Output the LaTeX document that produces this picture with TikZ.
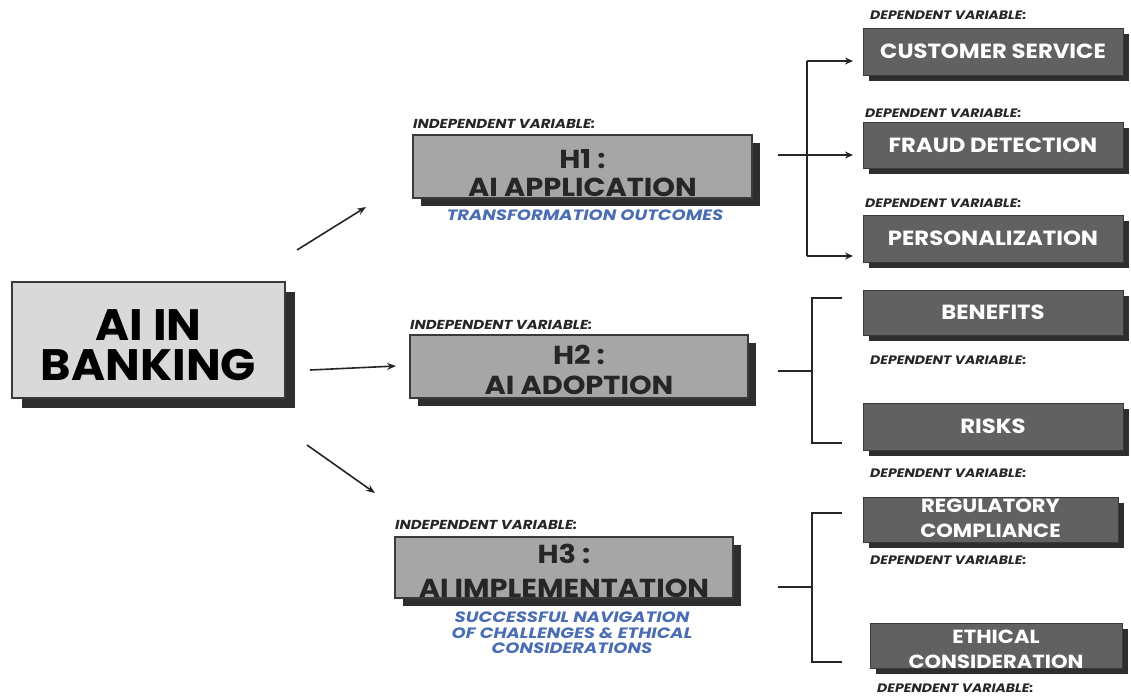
\documentclass[tikz,border=0pt]{standalone}
\usepackage{fontspec}
\setmainfont{Poppins}
\newfontfamily\wideA{Poppins}[FakeStretch=1.05]
\newfontfamily\wideB{Poppins}[FakeStretch=1.11]
\newfontfamily\wideC{Poppins}[FakeStretch=1.15]
\newfontfamily\wideD{Poppins}[FakeStretch=1.2]
\usetikzlibrary{arrows.meta,shadows}
\definecolor{lightbox}{HTML}{D9D9D9}
\definecolor{midbox}{HTML}{A6A6A6}
\definecolor{darkbox}{HTML}{616161}
\definecolor{shadowc}{HTML}{2E2E2E}
\definecolor{edgec}{HTML}{3A3A3A}
\definecolor{bluetxt}{HTML}{4A6DB4}
\begin{document}
\begin{tikzpicture}[x=1pt,y=-1pt,
  mainbox/.style={draw=edgec,line width=1.2pt,fill=lightbox,
    minimum width=273pt,minimum height=116pt,inner sep=0pt,
    drop shadow={shadow xshift=10pt,shadow yshift=-10pt,fill=shadowc,opacity=1}},
  maintxt/.style={text=black,align=center,inner sep=0pt,
    font=\wideA\bfseries\fontsize{44}{40}\selectfont},
  hbox/.style={draw=edgec,line width=1.2pt,fill=midbox,
    minimum width=338pt,minimum height=63pt,inner sep=0pt,
    drop shadow={shadow xshift=8pt,shadow yshift=-8pt,fill=shadowc,opacity=1}},
  htxt/.style={text=black!85,align=center,inner sep=0pt,
    font=\wideB\bfseries\fontsize{26}{28}\selectfont},
  dbox/.style={draw=edgec,line width=1pt,fill=darkbox,text=white,
    minimum width=260pt,minimum height=47pt,inner sep=0pt,align=center,
    font=\wideB\bfseries\fontsize{20.5}{24}\selectfont,
    drop shadow={shadow xshift=6pt,shadow yshift=-6pt,fill=shadowc,opacity=1}},
  dtxt2/.style={text=white,align=center,inner sep=0pt,
    font=\wideB\bfseries\fontsize{19}{25}\selectfont},
  varlbl/.style={anchor=base west,inner sep=0pt,text=black!85,
    font=\wideC\bfseries\itshape\fontsize{13}{15}\selectfont},
  deplbl/.style={varlbl,font=\wideC\bfseries\itshape\fontsize{12.2}{15}\selectfont},
  bluelbl/.style={text=bluetxt,align=center,inner sep=0pt,
    font=\wideD\bfseries\itshape\fontsize{15}{15.5}\selectfont},
  arr/.style={line width=1.6pt,draw=black!85,-{Stealth[length=9pt,width=7pt]}},
  brk/.style={line width=2.2pt,draw=black!85},
  cn/.style={line width=1.5pt,draw=black!85,-{Stealth[length=8pt,width=7pt]}}
]
\useasboundingbox (0,0) rectangle (1131,697);

% main box
\node[mainbox,label={[name=bankt,maintxt,yshift=-5pt]center:{AI IN\\BANKING}}] (bank) at (148.5,340) {};

% hypothesis boxes
\node[hbox,minimum width=339pt,label={[name=h1t,htxt,yshift=-7pt]center:{H1 :\\AI APPLICATION}}] (h1) at (582.5,166.5) {};
\node[hbox,label={[name=h2t,htxt,yshift=-3.5pt,font=\wideB\bfseries\fontsize{26}{30}\selectfont]center:{H2 :\\AI ADOPTION}}] (h2) at (579,366.5) {};
\node[hbox,minimum height=61pt,label={[name=h3t,htxt,yshift=-3.5pt,font=\wideB\bfseries\fontsize{26}{34}\selectfont]center:{H3 :\\AI IMPLEMENTATION}}] (h3) at (564,567.5) {};

\node[varlbl] (iv1) at (413,128) {INDEPENDENT VARIABLE:};
\node[varlbl] (iv2) at (410,329) {INDEPENDENT VARIABLE:};
\node[varlbl] (iv3) at (395,529) {INDEPENDENT VARIABLE:};

\node[bluelbl] (b1) at (585,215) {TRANSFORMATION OUTCOMES};
\node[bluelbl] (b3) at (572,633) {SUCCESSFUL NAVIGATION\\OF CHALLENGES \& ETHICAL\\CONSIDERATIONS};

% dependent boxes
\node[dbox] (cs) at (993,51.5) {CUSTOMER SERVICE};
\node[dbox,minimum height=46pt] (fd) at (993,145) {FRAUD DETECTION};
\node[dbox] (pe) at (993,238.5) {PERSONALIZATION};
\node[dbox,minimum height=45pt] (be) at (993,312.5) {BENEFITS};
\node[dbox] (ri) at (993,426.5) {RISKS};
\node[dbox,minimum width=255pt,minimum height=45pt,label={[name=rct,dtxt2,yshift=1pt]center:{REGULATORY\\COMPLIANCE}}] (rc) at (990.5,519.5) {};
\node[dbox,minimum width=252pt,minimum height=45pt,label={[name=ect,dtxt2,yshift=-4pt]center:{ETHICAL\\CONSIDERATION}}] (ec) at (996,645.5) {};

\node[deplbl] (dv1) at (870,19) {DEPENDENT VARIABLE:};
\node[deplbl] (dv2) at (865,117) {DEPENDENT VARIABLE:};
\node[deplbl] (dv3) at (865,207) {DEPENDENT VARIABLE:};
\node[deplbl] (dv4) at (870,364) {DEPENDENT VARIABLE:};
\node[deplbl] (dv5) at (870,477) {DEPENDENT VARIABLE:};
\node[deplbl] (dv6) at (870,564) {DEPENDENT VARIABLE:};
\node[deplbl] (dv7) at (877,692) {DEPENDENT VARIABLE:};

% arrows from main box
\coordinate (a1s) at (297,250); \coordinate (a1e) at (366,207);
\coordinate (a2s) at (310,370); \coordinate (a2e) at (396,366);
\coordinate (a3s) at (307,445); \coordinate (a3e) at (375,493);
\draw[arr] (a1s) -- (a1e);
\draw[arr] (a2s) -- (a2e);
\draw[arr] (a3s) -- (a3e);

% H1 connectors
\coordinate (t1) at (807,61); \coordinate (t3) at (807,256);
\coordinate (s1) at (778,155); \coordinate (m1) at (807,155);
\coordinate (e1) at (853,61); \coordinate (e2) at (853,155); \coordinate (e3) at (853,256);
\draw[line width=1.5pt,draw=black!85] (t1) -- (t3);
\draw[cn] (t1) -- (e1);
\draw[cn] (s1) -- (e2);
\draw[cn] (t3) -- (e3);

% H2 bracket
\coordinate (p1) at (842,298); \coordinate (p2) at (812,298);
\coordinate (p3) at (812,443); \coordinate (p4) at (842,443);
\coordinate (q1) at (778,371); \coordinate (q2) at (812,371);
\draw[brk] (p1) -- (p2) -- (p3) -- (p4);
\draw[brk] (q1) -- (q2);

% H3 bracket
\coordinate (r1) at (842,513); \coordinate (r2) at (812,513);
\coordinate (r3) at (812,662); \coordinate (r4) at (842,662);
\coordinate (u1) at (778,587); \coordinate (u2) at (812,587);
\draw[brk] (r1) -- (r2) -- (r3) -- (r4);
\draw[brk] (u1) -- (u2);
\end{tikzpicture}
\end{document}
